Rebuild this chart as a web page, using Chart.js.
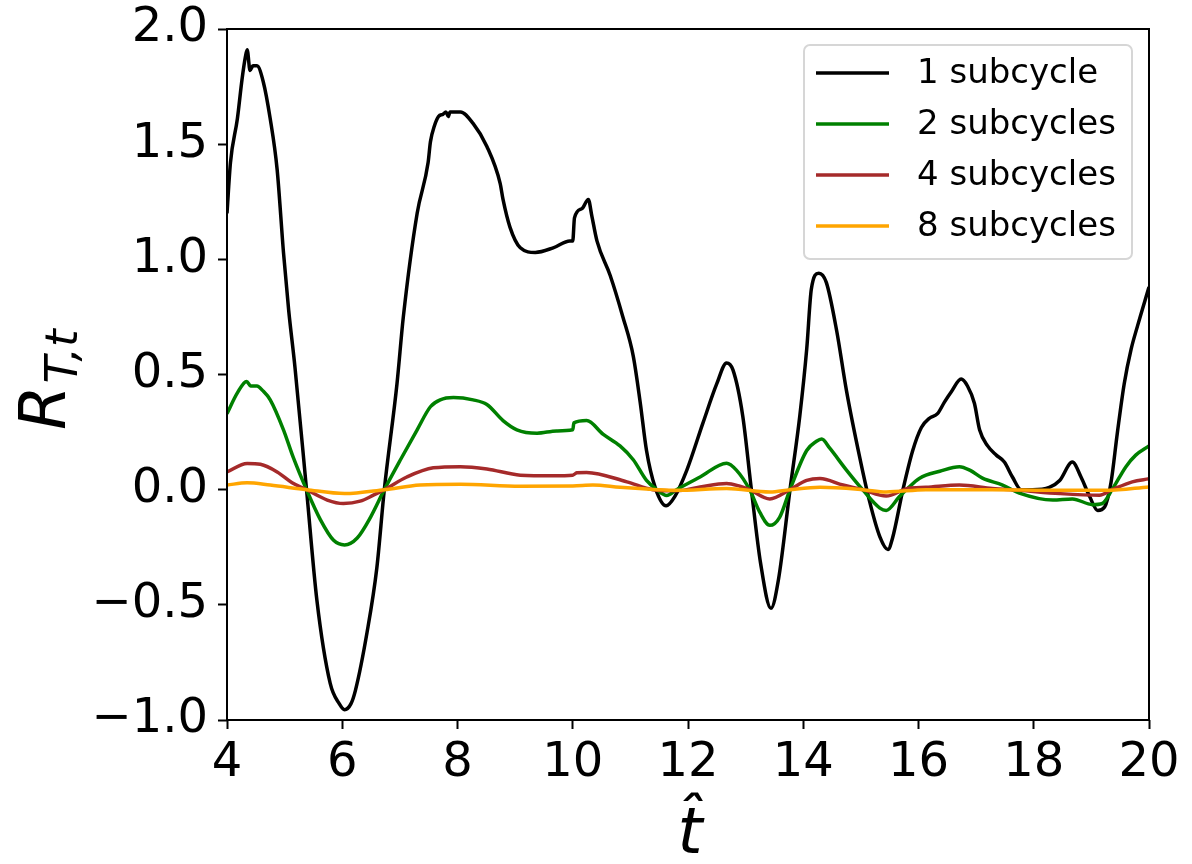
<!DOCTYPE html>
<html>
<head>
<meta charset="utf-8">
<title>R_T,t subcycles</title>
<script src="https://cdn.jsdelivr.net/npm/chart.js@4.4.1/dist/chart.umd.min.js"></script>
<style>
  html, body { margin: 0; padding: 0; background: #fff; }
  #wrap { width: 1192px; height: 864px; }
</style>
</head>
<body>
<div id="wrap"><canvas id="rChart" width="1192" height="864"></canvas></div>
<script>
// time samples (t hat) and R_T,t values for each run
var tOne = [4.00, 4.06, 4.18, 4.26, 4.32, 4.35, 4.40, 4.45, 4.52, 4.63, 4.75, 4.87, 4.98, 5.07, 5.18, 5.38, 5.56, 5.79, 5.95, 6.04, 6.15, 6.23, 6.43, 6.60, 6.73, 6.95, 7.06, 7.30, 7.49, 7.53, 7.60, 7.67, 7.75, 7.80, 7.84, 7.87, 8.05, 8.27, 8.51, 8.74, 8.79, 8.91, 9.09, 9.35, 9.66, 9.95, 10.00, 10.03, 10.16, 10.27, 10.33, 10.42, 10.65, 10.87, 11.05, 11.17, 11.28, 11.43, 11.62, 11.77, 11.98, 12.26, 12.50, 12.67, 12.78, 12.95, 13.10, 13.26, 13.44, 13.57, 13.77, 13.94, 14.06, 14.14, 14.27, 14.40, 14.58, 14.75, 14.98, 15.15, 15.33, 15.47, 15.55, 15.73, 15.90, 16.05, 16.19, 16.33, 16.45, 16.57, 16.74, 16.85, 16.97, 17.06, 17.20, 17.35, 17.49, 17.63, 17.78, 17.98, 18.27, 18.45, 18.67, 18.82, 18.97, 19.11, 19.23, 19.34, 19.45, 19.57, 19.69, 19.80, 20.00];
var rOne = [1.20, 1.42, 1.61, 1.78, 1.88, 1.91, 1.82, 1.84, 1.84, 1.77, 1.61, 1.39, 1.03, 0.78, 0.53, 0.00, -0.48, -0.84, -0.93, -0.955, -0.93, -0.87, -0.62, -0.34, 0.00, 0.46, 0.75, 1.20, 1.42, 1.51, 1.58, 1.62, 1.63, 1.64, 1.62, 1.64, 1.64, 1.59, 1.49, 1.33, 1.26, 1.14, 1.05, 1.03, 1.05, 1.08, 1.08, 1.18, 1.22, 1.26, 1.19, 1.08, 0.93, 0.75, 0.58, 0.38, 0.17, 0.01, -0.07, -0.03, 0.085, 0.29, 0.46, 0.55, 0.52, 0.32, 0.00, -0.32, -0.515, -0.39, 0.00, 0.32, 0.61, 0.87, 0.94, 0.90, 0.69, 0.43, 0.14, -0.05, -0.205, -0.26, -0.21, 0.00, 0.17, 0.27, 0.31, 0.33, 0.38, 0.425, 0.48, 0.45, 0.375, 0.26, 0.19, 0.15, 0.12, 0.055, 0.00, 0.00, 0.01, 0.04, 0.12, 0.055, -0.03, -0.09, -0.075, 0.03, 0.245, 0.46, 0.61, 0.71, 0.88];

var tTwo = [4.00, 4.18, 4.34, 4.41, 4.52, 4.62, 4.75, 4.98, 5.15, 5.38, 5.62, 5.85, 6.04, 6.26, 6.49, 6.73, 7.01, 7.30, 7.53, 7.70, 7.93, 8.27, 8.51, 8.79, 9.03, 9.38, 9.72, 10.00, 10.02, 10.24, 10.53, 10.82, 11.05, 11.28, 11.46, 11.63, 11.80, 12.21, 12.67, 12.84, 13.07, 13.25, 13.42, 13.59, 13.77, 14.06, 14.23, 14.32, 14.46, 14.75, 15.03, 15.33, 15.44, 15.67, 15.81, 16.02, 16.37, 16.71, 16.89, 17.11, 17.46, 17.75, 18.33, 18.67, 19.02, 19.19, 19.36, 19.60, 19.77, 20.00];
var rTwo = [0.33, 0.42, 0.47, 0.45, 0.45, 0.43, 0.39, 0.26, 0.14, 0.00, -0.13, -0.22, -0.24, -0.21, -0.12, 0.00, 0.13, 0.26, 0.36, 0.39, 0.40, 0.39, 0.37, 0.30, 0.26, 0.245, 0.255, 0.26, 0.29, 0.30, 0.24, 0.19, 0.13, 0.04, 0.00, -0.025, 0.00, 0.055, 0.115, 0.085, 0.00, -0.10, -0.155, -0.12, 0.00, 0.17, 0.21, 0.22, 0.18, 0.085, 0.00, -0.08, -0.09, -0.03, 0.005, 0.05, 0.08, 0.10, 0.085, 0.05, 0.02, -0.015, -0.045, -0.04, -0.065, -0.06, 0.00, 0.10, 0.15, 0.19];

var tFour = [4.00, 4.35, 4.58, 4.87, 5.13, 5.38, 5.74, 6.02, 6.31, 6.54, 6.73, 7.12, 7.58, 8.05, 8.51, 9.09, 9.66, 10.00, 10.07, 10.24, 10.94, 11.39, 11.80, 12.21, 12.67, 12.90, 13.07, 13.42, 13.77, 14.06, 14.29, 14.69, 15.03, 15.44, 15.81, 16.13, 16.71, 17.28, 17.75, 18.45, 19.14, 19.36, 19.71, 20.00];
var rFour = [0.077, 0.114, 0.11, 0.077, 0.03, 0.00, -0.045, -0.06, -0.05, -0.024, 0.00, 0.055, 0.095, 0.10, 0.09, 0.063, 0.06, 0.063, 0.073, 0.075, 0.034, 0.00, -0.005, 0.012, 0.027, 0.015, 0.00, -0.04, 0.00, 0.04, 0.048, 0.02, 0.00, -0.028, 0.005, 0.01, 0.02, 0.005, -0.003, -0.017, -0.024, 0.00, 0.034, 0.047];

var tEight = [4.00, 4.35, 4.75, 5.38, 6.04, 6.73, 7.35, 8.05, 9.09, 10.00, 10.35, 10.82, 11.46, 11.80, 12.67, 13.42, 13.77, 14.29, 15.03, 15.44, 16.13, 17.28, 18.45, 19.26, 20.00];
var rEight = [0.02, 0.03, 0.02, 0.00, -0.017, 0.00, 0.02, 0.024, 0.015, 0.016, 0.02, 0.01, 0.00, -0.003, 0.005, -0.01, 0.00, 0.01, 0.00, -0.01, 0.00, 0.00, -0.003, -0.003, 0.012];

var seriesLabels = ['1 subcycle', '2 subcycles', '4 subcycles', '8 subcycles'];
var seriesColors = ['#000000', '#008000', '#a52a2a', '#ffa500'];
var xTicks = [4, 6, 8, 10, 12, 14, 16, 18, 20];
var yTicks = [-1.0, -0.5, 0.0, 0.5, 1.0, 1.5, 2.0];

function toPoints(ts, rs) {
  return ts.map(function (t, i) { return { x: t, y: rs[i] }; });
}

var allT = [tOne, tTwo, tFour, tEight];
var allR = [rOne, rTwo, rFour, rEight];

var datasets = [];
for (var i = 0; i < 4; i++) {
  datasets.push({
    label: seriesLabels[i],
    data: toPoints(allT[i], allR[i]),
    borderColor: seriesColors[i],
    backgroundColor: seriesColors[i],
    borderWidth: 3.5,
    pointRadius: 0,
    cubicInterpolationMode: 'monotone',
    fill: false,
    // later series sit on top, like the original plot order
    order: 4 - i
  });
}

var tickFont = { family: 'DejaVu Sans', size: 48 };

// frame, legend box and math axis titles
var decorPlugin = {
  id: 'decor',
  afterDatasetsDraw: function (chart) {
    var ctx = chart.ctx;
    var a = chart.chartArea;
    ctx.save();

    // box around the axes
    ctx.strokeStyle = '#000';
    ctx.lineWidth = 2;
    ctx.strokeRect(a.left, a.top, a.right - a.left, a.bottom - a.top);

    // legend
    var bx = a.right - 345, by = a.top + 16, bw = 328, bh = 214, rad = 6;
    ctx.beginPath();
    ctx.moveTo(bx + rad, by);
    ctx.arcTo(bx + bw, by, bx + bw, by + bh, rad);
    ctx.arcTo(bx + bw, by + bh, bx, by + bh, rad);
    ctx.arcTo(bx, by + bh, bx, by, rad);
    ctx.arcTo(bx, by, bx + bw, by, rad);
    ctx.closePath();
    ctx.fillStyle = 'rgba(255,255,255,0.8)';
    ctx.fill();
    ctx.strokeStyle = '#d6d6d6';
    ctx.lineWidth = 2;
    ctx.stroke();

    ctx.font = '34px "DejaVu Sans"';
    ctx.textBaseline = 'middle';
    ctx.textAlign = 'left';
    for (var k = 0; k < seriesLabels.length; k++) {
      var rowY = by + 28 + k * 51;
      ctx.strokeStyle = seriesColors[k];
      ctx.lineWidth = 3.5;
      ctx.beginPath();
      ctx.moveTo(bx + 12, rowY);
      ctx.lineTo(bx + 85, rowY);
      ctx.stroke();
      ctx.fillStyle = '#000';
      ctx.fillText(seriesLabels[k], bx + 113, rowY + 1);
    }

    // y title: R_{T,t}
    ctx.fillStyle = '#000';
    ctx.textBaseline = 'alphabetic';
    ctx.save();
    ctx.translate(a.left - 162, 430);
    ctx.rotate(-Math.PI / 2);
    ctx.font = 'italic 64px "DejaVu Sans"';
    ctx.fillText('R', 0, 0);
    var wR = ctx.measureText('R').width;
    ctx.font = 'italic 45px "DejaVu Sans"';
    ctx.fillText('T,t', wR + 2, 12);
    ctx.restore();

    // x title: t hat
    ctx.font = 'italic 64px "DejaVu Sans"';
    ctx.textAlign = 'center';
    ctx.fillText('t\u0302', (a.left + a.right) / 2 + 2, 853);

    ctx.restore();
  }
};

var rChart = new Chart(document.getElementById('rChart'), {
  type: 'line',
  data: { datasets: datasets },
  plugins: [decorPlugin],
  options: {
    responsive: false,
    animation: false,
    events: [],
    layout: { padding: { left: 0, right: 43, top: 29, bottom: 0 } },
    plugins: {
      legend: { display: false },
      tooltip: { enabled: false }
    },
    scales: {
      x: {
        type: 'linear',
        min: 4,
        max: 20,
        afterBuildTicks: function (scale) {
          scale.ticks = xTicks.map(function (v) { return { value: v }; });
        },
        afterFit: function (scale) {
          scale.height = 144;
          scale.paddingLeft = 0;
          scale.paddingRight = 0;
        },
        ticks: {
          color: '#000',
          font: tickFont,
          padding: 6,
          maxRotation: 0,
          callback: function (v) { return String(v); }
        },
        grid: { drawOnChartArea: false, drawTicks: true, tickLength: 9, tickColor: '#000', tickWidth: 2 },
        border: { display: false }
      },
      y: {
        type: 'linear',
        min: -1,
        max: 2,
        afterBuildTicks: function (scale) {
          scale.ticks = yTicks.map(function (v) { return { value: v }; });
        },
        afterFit: function (scale) {
          scale.width = 227;
          // the top label may poke above the frame, as in the original
          scale.paddingTop = 0;
          scale.paddingBottom = 0;
        },
        ticks: {
          color: '#000',
          font: tickFont,
          padding: 10,
          callback: function (v) {
            return v < 0 ? '\u2212' + Math.abs(v).toFixed(1) : v.toFixed(1);
          }
        },
        grid: { drawOnChartArea: false, drawTicks: true, tickLength: 9, tickColor: '#000', tickWidth: 2 },
        border: { display: false }
      }
    }
  }
});
</script>
</body>
</html>
